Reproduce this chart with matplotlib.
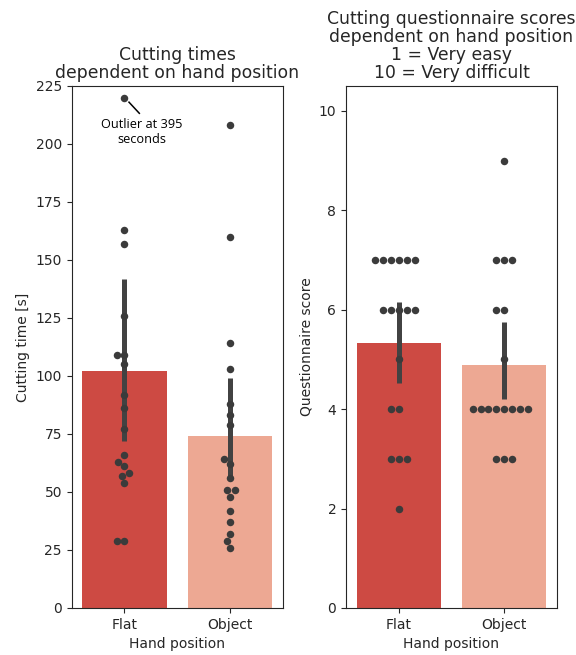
import numpy as np
import matplotlib
matplotlib.use("Agg")
import matplotlib.pyplot as plt
import seaborn as sns
import pandas as pd

# Data
positions = ["Flat", "Object"]
time_flat = [395, 163, 157, 126, 109, 109, 105, 92, 86, 77, 66, 63, 61, 58, 57, 54, 29, 29]
time_object = [208, 160, 114, 103, 88, 83, 79, 64, 62, 56, 51, 51, 48, 42, 37, 32, 29, 26]
time_ci = [(72, 142), (55, 99)]
score_flat = [7] * 6 + [6] * 5 + [5] + [4] * 2 + [3] * 3 + [2]
score_object = [9] + [7] * 3 + [6] * 2 + [5] + [4] * 8 + [3] * 3
score_ci = [(4.53, 6.15), (4.20, 5.76)]
time_cap = 220   # the outlier is drawn at the top of the axis

bar_colors = ["#cd4a43", "#eda893"]
dot_color = "#3b3b3b"
err_color = "#424242"

plt.rcParams["font.family"] = "DejaVu Sans"
plt.rcParams["text.color"] = "#262626"
plt.rcParams["axes.labelcolor"] = "#262626"
plt.rcParams["xtick.color"] = "#262626"
plt.rcParams["ytick.color"] = "#262626"
plt.rcParams["axes.edgecolor"] = "#262626"

fig = plt.figure(figsize=(5.76, 6.55), dpi=100)
ax1 = fig.add_axes([0.1245, 0.0718, 0.3663, 0.797])
ax2 = fig.add_axes([0.6007, 0.0718, 0.3663, 0.797])


def draw_panel(ax, flat, obj, ci, cap=None):
    means = [np.mean(flat), np.mean(obj)]
    ax.bar(positions, means, width=0.8, color=bar_colors, zorder=1)
    shown_flat = [min(v, cap) for v in flat] if cap else flat
    df = pd.DataFrame({
        "pos": ["Flat"] * len(shown_flat) + ["Object"] * len(obj),
        "val": list(shown_flat) + list(obj),
    })
    sns.swarmplot(data=df, x="pos", y="val", order=positions, color=dot_color,
                  size=5.4, linewidth=0, ax=ax, zorder=3)
    for i, (lo, hi) in enumerate(ci):
        ax.plot([i, i], [lo, hi], color=err_color, lw=3.6, solid_capstyle="butt", zorder=2)
    ax.set_xlim(-0.5, 1.5)
    ax.set_xlabel("Hand position")


draw_panel(ax1, time_flat, time_object, time_ci, cap=time_cap)
ax1.set_ylim(0, 225)
ax1.set_yticks(np.arange(0, 226, 25))
ax1.set_ylabel("Cutting time [s]")
ax1.set_title("Cutting times\ndependent on hand position", fontsize=12.4, linespacing=0.98)

ax1.plot([0.043, 0.141], [218, 213.2], color="black", lw=1.1, zorder=4)
ax1.text(0.163, 205.2, "Outlier at 395\nseconds", ha="center", va="center",
         fontsize=9.2, family="Open Sans", color="black", linespacing=1.15)

draw_panel(ax2, score_flat, score_object, score_ci)
ax2.set_ylim(0, 10.5)
ax2.set_yticks(np.arange(0, 11, 2))
ax2.set_ylabel("Questionnaire score")
ax2.set_title("Cutting questionnaire scores\ndependent on hand position\n1 = Very easy\n10 = Very difficult",
              fontsize=12.4, linespacing=0.98)

fig.savefig("out.png", dpi=100)
